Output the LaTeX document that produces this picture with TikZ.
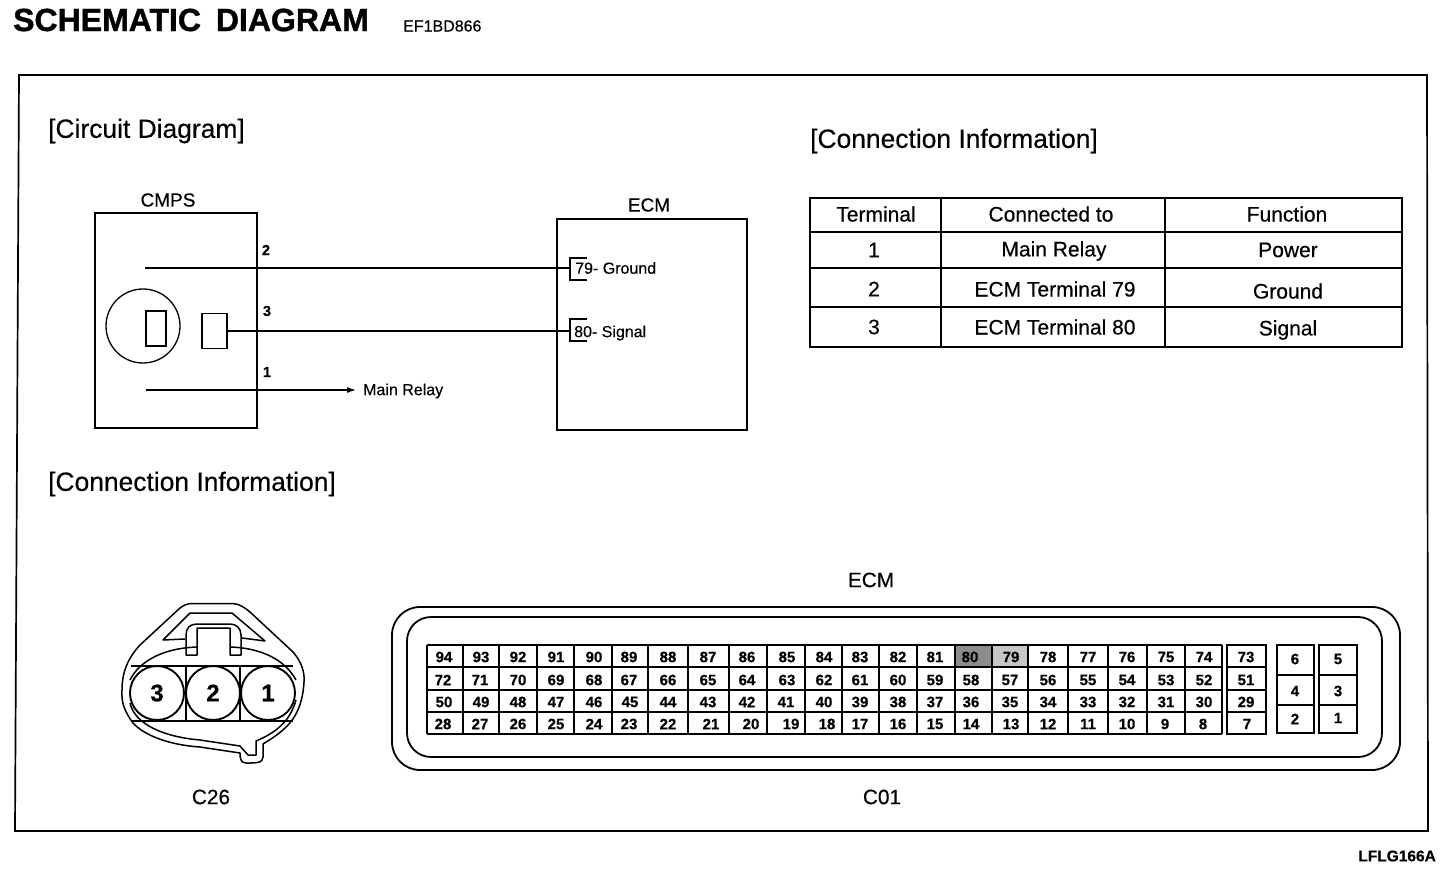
\documentclass[tikz,border=0pt]{standalone}
\usepackage{fontspec}
\setmainfont[FakeBold=0.35,BoldFeatures={FakeBold=0.5}]{Liberation Sans}
\newfontfamily\heavy[BoldFeatures={FakeBold=1.2}]{Liberation Sans}
\usetikzlibrary{arrows.meta}
\newcommand{\fs}[1]{\fontsize{#1pt}{#1pt}\selectfont}
\tikzset{
  x=1pt,y=-1pt,
  box/.style={draw=black,line width=1.8pt,rectangle,inner sep=0pt},
  thinbox/.style={draw=black,line width=1.4pt,rectangle,inner sep=0pt},
  wire/.style={draw=black,line width=1.1pt},
  head/.style={inner sep=0pt,anchor=west,font=\fs{26.4}},
  lab/.style={inner sep=0pt,font=\fs{21}},
  sm/.style={inner sep=0pt,font=\fs{16}},
  pinl/.style={inner sep=0pt,font=\bfseries\fs{14.5}},
  num/.style={inner sep=0pt,font=\bfseries\fs{15}},
  lowl/.style={inner sep=0pt,font=\fs{20.8}},
  gridl/.style={draw=black,line width=2.2pt},
  conn/.style={draw=black,line width=1.5pt,line join=round},
}
\begin{document}
\begin{tikzpicture}
\useasboundingbox (0,0) rectangle (1456,874);
\fill[white] (0,0) rectangle (1456,874);
% title
\node[inner sep=0pt,anchor=west,font=\heavy\bfseries\fs{32}] (title) at (13,20) {SCHEMATIC\hspace{6pt} DIAGRAM};
\node[inner sep=0pt,anchor=west,font=\fs{16}] (code) at (403,26) {EF1BD866};
\node[inner sep=0pt,anchor=east,font=\bfseries\fs{15.5}] (lflg) at (1436,856) {LFLG166A};
% frame
\draw[line width=1.7pt,line join=miter] (19,75) -- (1427,75) -- (1428,831) -- (15,831) -- cycle;
% headings
\node[head] (h1) at (48,131) {[Circuit Diagram]};
\node[head] (h2) at (810,141) {[Connection Information]};
\node[head] (h3) at (48,484) {[Connection Information]};
% CMPS
\node[box,minimum width=162pt,minimum height=215pt] (cmps) at (176,320.5) {};
\node[lab,font=\fs{19}] (cmpst) at (168,200) {CMPS};
\node[draw=black,line width=1.3pt,circle,minimum size=74pt,inner sep=0pt] (rotor) at (143,326) {};
\node[thinbox,minimum width=20pt,minimum height=35pt] (rr) at (156,328.5) {};
\node[thinbox,minimum width=25pt,minimum height=35pt] (sr) at (214.5,331) {};
\node[pinl] (p2) at (266,250) {2};
\node[pinl] (p3) at (267,311) {3};
\node[pinl] (p1) at (267,372) {1};
% ECM
\node[box,minimum width=190pt,minimum height=211pt] (ecm) at (652,324.5) {};
\node[lab,font=\fs{19}] (ecmt) at (649,205) {ECM};
\coordinate (w2s) at (145,268);
\coordinate (w1s) at (146,390);
\coordinate (w1e) at (356,390);
\coordinate (b79) at (570,268);
\coordinate (b80) at (570,331);
\draw[wire] (w2s) -- (b79);
\draw[wire] (sr.east) -- (b80);
\draw[wire,-{Latex[length=9pt,width=6pt]}] (w1s) -- (w1e);
\draw[wire] ([xshift=17pt,yshift=-12pt]b79) -- ([yshift=-12pt]b79) -- ([yshift=10pt]b79) -- ([xshift=17pt,yshift=10pt]b79);
\draw[wire] ([xshift=17pt,yshift=-10pt]b80) -- ([yshift=-10pt]b80) -- ([yshift=12pt]b80) -- ([xshift=17pt,yshift=12pt]b80);
\node[sm,anchor=west] (g) at (575,268) {79- Ground};
\node[sm,anchor=west] (s) at (574,333) {80- Signal};
\node[sm,anchor=west] (mr) at (363,391) {Main Relay};
% Table
\draw[line width=1.8pt] (810,198) rectangle (1402,347);
\foreach \yy in {232,268,307} \draw[line width=1.8pt] (810,\yy) -- (1402,\yy);
\foreach \xx in {941,1165} \draw[line width=1.8pt] (\xx,198) -- (\xx,347);
\foreach \n/\tx/\ty/\txt in {
 a/876/214/Terminal, b/1051/214/Connected to, c/1287/214/Function,
 d/874/250/1, e/1054/251/Main Relay, f/1288/250/Power,
 g/874/289/2, h/1055/289/ECM Terminal 79, i/1288/291/Ground,
 j/874/327/3, k/1055/327/ECM Terminal 80, l/1288/330/Signal}
 \node[lab] (t\n) at (\tx,\ty) {\txt};
% Lower labels
\node[lowl] (ecml) at (871,580) {ECM};
\node[lowl] (c01) at (882,797) {C01};
\node[lowl] (c26) at (211,797) {C26};
% C26 connector
\draw[conn] (190,603.5) -- (233,603.5) .. controls (240,604) and (245,608) .. (250,612) -- (293,652)
  .. controls (301,661) and (305,672) .. (304,682) .. controls (303,700) and (298,714) .. (289,724)
  .. controls (281,733) and (271,739) .. (263,744) -- (263,757) .. controls (263,763) and (256,763) .. (250,763)
  -- (246,763) .. controls (241,763) and (240,759) .. (240,753) -- (200,747)
  .. controls (170,745) and (145,736) .. (133,723) .. controls (125,712) and (121,703) .. (122,690)
  .. controls (122,672) and (128,658) .. (140,645) -- (180,608) .. controls (184,605) and (187,604) .. cycle;
\draw[conn] (185,639) -- (163,640) -- (190,613) -- (232,613) -- (265,641) -- (242,638);
\draw[conn] (186,655) -- (186,635) .. controls (186,628) and (190,624) .. (197,624) -- (230,624) .. controls (236,624) and (241,628) .. (241,635) -- (241,655) -- (230,655) -- (230,628) -- (197,628) -- (197,655) -- cycle;
\draw[conn] (130,680) .. controls (140,660) and (165,648) .. (197,647);
\draw[conn] (230,647) .. controls (262,648) and (285,660) .. (296,680);
\draw[conn] (130,703) .. controls (135,725) and (165,737) .. (200,740) -- (240,746) -- (248,755) -- (256,755) -- (256,741) .. controls (275,733) and (290,722) .. (296,700);
\draw[conn] (131,666) -- (293,666);
\draw[conn] (131,721) -- (293,721);
\draw[conn] (186,666) -- (186,721);
\draw[conn] (240,666) -- (240,721);
\foreach \n/\cx/\t in {p3/157/3,p2/213/2,p1/268/1}
  \node[circle,draw=black,line width=1.9pt,fill=white,minimum size=54pt,inner sep=0pt,font=\bfseries\fs{24}] (c\n) at (\cx,693) {\t};
% C01 outline
\draw[line width=1.8pt,rounded corners=28pt] (392,607) rectangle (1400,770);
\draw[line width=1.8pt,rounded corners=24pt] (407,617) rectangle (1382,757);
% shaded cells
\fill[gray!90] (956,646) rectangle (992,667);
\fill[gray!45] (992,646) rectangle (1028,667);
% C01 grid
\foreach \yy in {645,667,690,712,734} \draw[gridl] (427,\yy) -- (1222,\yy);
\foreach \xx in {427,463,499,537,574,612,648,688,729,767,805,842,879,917,955,992,1028,1068,1108,1147,1185,1222}
  \draw[gridl] (\xx,645) -- (\xx,734);
\draw[gridl] (1227,645) rectangle (1266,734);
\foreach \yy in {667,690,712} \draw[gridl] (1227,\yy) -- (1266,\yy);
\draw[gridl] (1277,645) rectangle (1314,733);
\draw[gridl] (1319,645) rectangle (1357,733);
\foreach \xx/\xy in {1277/1314,1319/1357}{
  \draw[gridl] (\xx,675) -- (\xy,675);
  \draw[gridl] (\xx,705) -- (\xy,705);
}
% numbers
\foreach \t/\xx in {94/444,93/481,92/518,91/556,90/594,89/629,88/668,87/708,86/747,85/787,84/824,83/860,82/898,81/935,80/970,79/1011,78/1048,77/1088,76/1127,75/1166,74/1204,73/1246}
  \node[num] (n\t) at (\xx,657) {\t};
\foreach \t/\xx in {72/443,71/480,70/518,69/556,68/594,67/629,66/668,65/708,64/747,63/787,62/824,61/860,60/898,59/935,58/971,57/1010,56/1048,55/1088,54/1127,53/1166,52/1204,51/1246}
  \node[num] (n\t) at (\xx,680) {\t};
\foreach \t/\xx in {50/444,49/481,48/518,47/556,46/594,45/630,44/668,43/708,42/747,41/786,40/824,39/860,38/898,37/935,36/971,35/1010,34/1048,33/1088,32/1127,31/1166,30/1204,29/1246}
  \node[num] (n\t) at (\xx,702) {\t};
\foreach \t/\xx in {28/443,27/480,26/518,25/556,24/594,23/629,22/668,21/711,20/751,19/791,18/827,17/860,16/898,15/935,14/971,13/1011,12/1048,11/1088,10/1127,9/1165,8/1203,7/1247}
  \node[num] (n\t) at (\xx,724) {\t};
\foreach \t/\xx/\yy in {6/1295/659,5/1338/659,4/1295/691,3/1338/691,2/1295/719,1/1338/718}
  \node[num] (n\t) at (\xx,\yy) {\t};
\end{tikzpicture}
\end{document}
